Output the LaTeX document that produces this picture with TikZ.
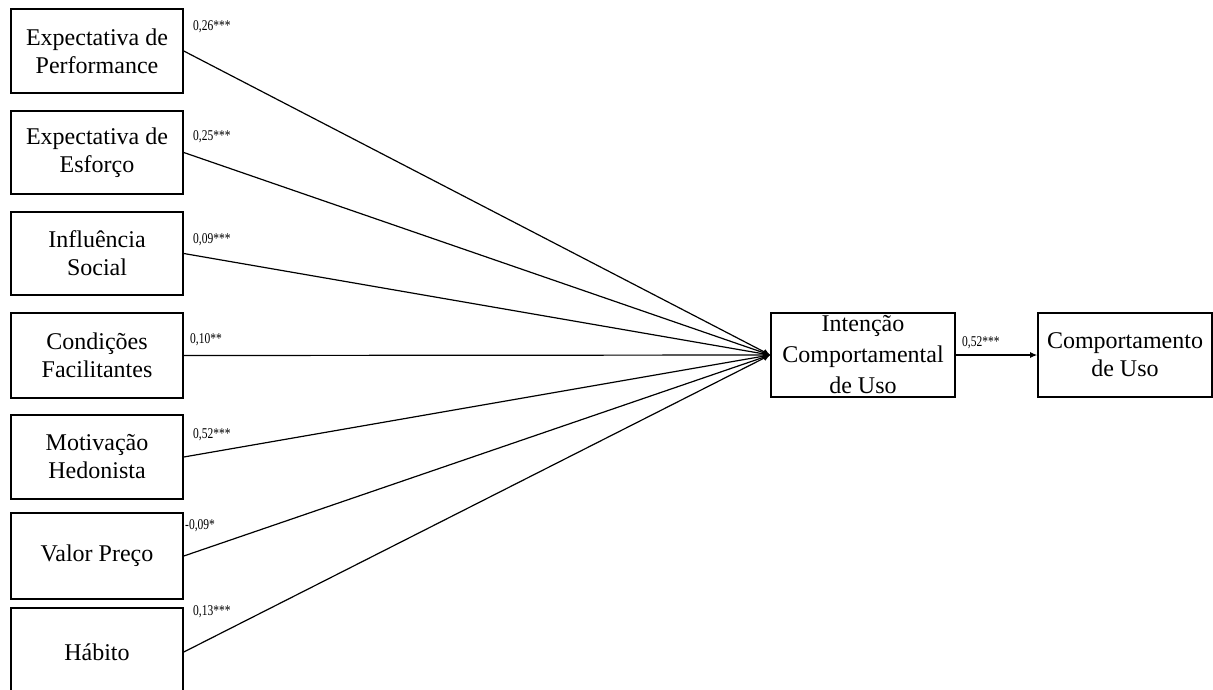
\documentclass[tikz,border=0pt]{standalone}
\usepackage{fontspec}
\setmainfont{Liberation Serif}
\usetikzlibrary{arrows.meta}
\newcommand{\coeftext}[1]{\scalebox{1}[1.3]{#1}}
\tikzset{
  varbox/.style={draw, line width=1.6pt, minimum width=172pt, minimum height=84pt, inner sep=0pt, align=center, font=\fontsize{24}{28}\selectfont},
  midbox/.style={draw, line width=1.6pt, minimum width=184pt, minimum height=84pt, inner sep=0pt, align=center, font=\fontsize{24}{31}\selectfont},
  path/.style={line width=1.2pt, -{Latex[length=7pt,width=6pt]}},
  coef/.style={anchor=west, inner sep=0pt, font=\fontsize{11.5}{13}\selectfont}
}
\begin{document}
\begin{tikzpicture}[x=1pt,y=-1pt]
\useasboundingbox (0,0) rectangle (1213,689);
\node[varbox] (pe) at (97,51) {Expectativa de\\Performance};
\node[varbox, minimum height=83pt] (ee) at (97,152.5) {Expectativa de\\Esforço};
\node[varbox, minimum height=83pt] (is) at (97,253.5) {Influência\\Social};
\node[varbox, minimum height=85pt] (cf) at (97,355.5) {Condições\\Facilitantes};
\node[varbox] (mh) at (97,457) {Motivação\\Hedonista};
\node[varbox, minimum height=86pt] (vp) at (97,556) {Valor Preço};
\node[varbox, minimum height=88pt] (hb) at (97,652) {Hábito};
\node[midbox] (ic) at (863,355) {Intenção\\Comportamental\\de Uso};
\node[varbox, minimum width=174pt] (cu) at (1125,355) {Comportamento\\de Uso};
\foreach \n in {pe,ee,is,cf,mh,vp,hb}{
  \draw[path] (\n.east) -- (ic.west);
}
\draw[path] (ic.east) -- (cu.west);
\node[coef] (l1) at (193,27) {\coeftext{0,26***}};
\node[coef] (l2) at (193,137) {\coeftext{0,25***}};
\node[coef] (l3) at (193,240) {\coeftext{0,09***}};
\node[coef] (l4) at (190,340) {\coeftext{0,10**}};
\node[coef] (l5) at (193,435) {\coeftext{0,52***}};
\node[coef] (l6) at (185,526) {\coeftext{-0,09*}};
\node[coef] (l7) at (193,612) {\coeftext{0,13***}};
\node[coef] (l8) at (962,343) {\coeftext{0,52***}};
\end{tikzpicture}
\end{document}
